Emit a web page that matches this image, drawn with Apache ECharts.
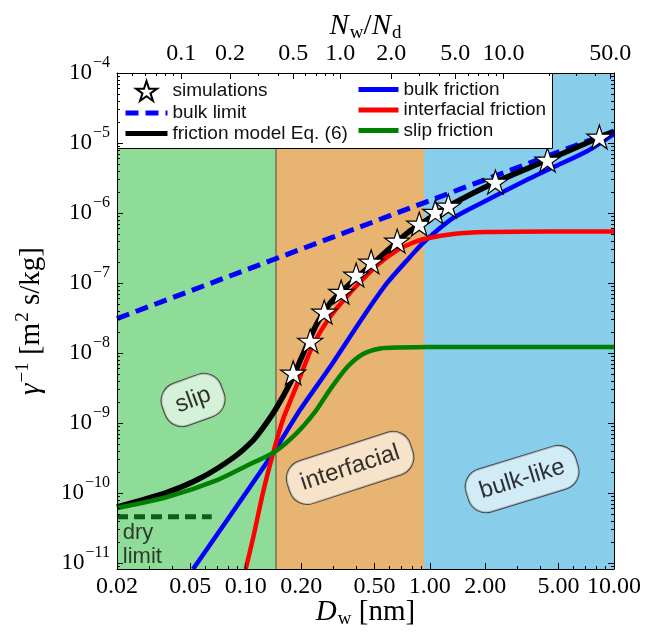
<!DOCTYPE html>
<html>
<head>
<meta charset="utf-8">
<script src="https://cdn.jsdelivr.net/npm/echarts@6/dist/echarts.min.js"></script>
<style>
  html, body { margin: 0; padding: 0; background: #ffffff; }
  #chart { width: 645px; height: 632px; }
</style>
</head>
<body>
<div id="chart"></div>
<script>
// Water film thickness D_w [nm] and inverse friction coefficient gamma^-1 [m^2 s/kg]

// simulations (stars)
const simD     = [0.181, 0.224, 0.267, 0.330, 0.398, 0.480, 0.665, 0.876, 1.07, 1.26, 2.27, 4.35, 8.33];
const simGamma = [5.2e-9, 1.48e-8, 3.85e-8, 7.4e-8, 1.3e-7, 2.0e-7, 3.98e-7, 6.97e-7, 1.03e-6, 1.26e-6, 2.77e-6, 5.72e-6, 1.22e-5];

// bulk limit (dashed)
const bulkLimitD     = [0.02, 10];
const bulkLimitGamma = [3.1e-8, 1.48e-5];

// friction model Eq. (6)
const modelD     = [0.02, 0.0374, 0.0566, 0.0857, 0.11, 0.126, 0.147, 0.174, 0.202, 0.244, 0.287, 0.354, 0.516, 0.75, 0.96, 1.26, 2.27, 4.35, 8.33, 10];
const modelGamma = [6.3e-11, 1.02e-10, 1.62e-10, 3.2e-10, 5.7e-10, 9.0e-10, 1.65e-9, 3.69e-9, 8.85e-9, 2.65e-8, 5.13e-8, 8.85e-8, 2.13e-7, 5.13e-7, 7.94e-7, 1.25e-6, 2.75e-6, 5.7e-6, 1.2e-5, 1.45e-5];

// bulk friction
const bulkD     = [0.0518, 0.141, 0.197, 0.287, 0.434, 0.586, 0.78, 0.918, 1.34, 2.05, 3.11, 4.71, 7.18, 10];
const bulkGamma = [8.2e-12, 3.73e-10, 1.53e-9, 6.3e-9, 3.27e-8, 1.0e-7, 2.35e-7, 3.73e-7, 8.49e-7, 1.53e-6, 2.68e-6, 4.54e-6, 7.7e-6, 1.35e-5];

// interfacial friction
const interfD     = [0.1, 0.110, 0.124, 0.141, 0.159, 0.188, 0.232, 0.287, 0.356, 0.434, 0.518, 0.665, 0.78, 0.93, 1.34, 2.05, 4.5, 10];
const interfGamma = [8.2e-12, 2.35e-11, 1.0e-10, 3.73e-10, 1.1e-9, 3.3e-9, 1.3e-8, 3.27e-8, 6.52e-8, 1.14e-7, 1.81e-7, 2.96e-7, 3.61e-7, 4.25e-7, 5.01e-7, 5.35e-7, 5.45e-7, 5.45e-7];

// slip friction
const slipD     = [0.02, 0.0374, 0.07, 0.106, 0.141, 0.185, 0.238, 0.287, 0.356, 0.434, 0.538, 0.69, 0.985, 10];
const slipGamma = [6.1e-11, 8.77e-11, 1.53e-10, 2.6e-10, 3.73e-10, 6.74e-10, 1.44e-9, 3.0e-9, 6.3e-9, 9.68e-9, 1.16e-8, 1.2e-8, 1.22e-8, 1.22e-8];

// dry limit (short dashed segment)
const dryD     = [0.02, 0.0654];
const dryGamma = [4.58e-11, 4.58e-11];

// regimes: slip | interfacial | bulk-like
const regimeBounds = [0.02, 0.146, 0.93, 10];

// bottom axis ticks
const bottomTicks  = [0.02, 0.05, 0.1, 0.2, 0.5, 1, 2, 5, 10];
const bottomMinor  = [0.03, 0.04, 0.06, 0.07, 0.08, 0.09, 0.3, 0.4, 0.6, 0.7, 0.8, 0.9, 3, 4, 6, 7, 8, 9];

// top axis: N_w/N_d ticks and the film thickness where each sits
const topTickN     = [0.1, 0.2, 0.5, 1, 2, 5, 10, 50];
const topTickLabel = ['0.1', '0.2', '0.5', '1.0', '2.0', '5.0', '10.0', '50.0'];
const topTickD     = [0.0446, 0.0822, 0.181, 0.326, 0.617, 1.374, 2.51, 9.55];
const topMinorN    = [0.05, 0.06, 0.07, 0.08, 0.09, 0.3, 0.4, 0.6, 0.7, 0.8, 0.9, 3, 4, 6, 7, 8, 9, 20, 30, 40];

// left axis decades
const yDecades = [-11, -10, -9, -8, -7, -6, -5, -4];

// regime notes
const noteText  = ['slip', 'interfacial', 'bulk-like'];
const noteD     = [0.0518, 0.369, 3.17];
const noteGamma = [2.13e-9, 2.28e-10, 1.58e-10];
const noteAngle = [20, 18, 17];

const lg = Math.log10;
const X_MIN = lg(0.02), X_MAX = lg(10);
const Y_MIN = lg(8.2e-12), Y_MAX = lg(1e-4);

const pts = (xs, ys) => xs.map((x, i) => [lg(x), lg(ys[i])]);

const topLogN = topTickN.map(lg), topLogD = topTickD.map(lg);
function nToLogD(n) {
  const v = lg(n);
  let i = 0;
  while (i < topLogN.length - 2 && v > topLogN[i + 1]) i++;
  const t = (v - topLogN[i]) / (topLogN[i + 1] - topLogN[i]);
  return topLogD[i] + t * (topLogD[i + 1] - topLogD[i]);
}
const topMinorPos = topMinorN.map(nToLogD).filter(v => v > X_MIN && v < X_MAX);

const yMinor = [];
for (let n = -12; n <= -5; n++) {
  for (let k = 2; k <= 9; k++) {
    const v = lg(k) + n;
    if (v > Y_MIN && v < Y_MAX) yMinor.push(v);
  }
}

const STAR = 'path://M100,0L122.45,69.1L195.1,69.1L136.33,111.8L158.8,180.9L100,138.2L41.2,180.9L63.67,111.8L4.9,69.1L77.55,69.1Z';
const SERIF = 'Liberation Serif';
const SANS = 'Liberation Sans';
const regimeColors = ['#8fdc98', '#e8b471', '#88cdea'];

const tickMajor = { show: true, inside: true, length: 6, lineStyle: { color: '#000', width: 1 } };
const tickMinor = { show: true, inside: true, length: 3, lineStyle: { color: '#000', width: 1 } };
const noLine = { show: false, onZero: false };
const frameLine = { show: true, onZero: false, lineStyle: { color: '#000', width: 1 } };

const xBase = { type: 'value', min: X_MIN, max: X_MAX, gridIndex: 0, splitLine: { show: false }, z: 30 };
const yBase = { type: 'value', min: Y_MIN, max: Y_MAX, gridIndex: 0, splitLine: { show: false }, z: 30 };

const nearestIdx = (arr, v) => {
  let best = 0;
  arr.forEach((a, i) => { if (Math.abs(a - v) < Math.abs(arr[best] - v)) best = i; });
  return best;
};

// line entries in the legend show only a thick line, no marker
const lineEntry = name => ({ name, itemStyle: { opacity: 0 }, lineStyle: { width: 5 } });

const SMOOTH = 0.25;

const option = {
  animation: false,
  backgroundColor: '#ffffff',
  grid: { left: 117, right: 31, top: 73, bottom: 63, containLabel: false, outerBoundsMode: 'none' },
  xAxis: [
    Object.assign({}, xBase, {
      position: 'bottom',
      axisLine: frameLine,
      axisTick: Object.assign({}, tickMajor, { customValues: bottomTicks.map(lg) }),
      axisLabel: {
        show: true, margin: 6, customValues: bottomTicks.map(lg),
        fontFamily: SERIF, fontSize: 24, color: '#000',
        formatter: v => bottomTicks[nearestIdx(bottomTicks.map(lg), v)].toFixed(2)
      },
      name: '{it|D}{sub|w}{rm| [nm]}',
      nameLocation: 'middle', nameGap: 27, nameMoveOverlap: false,
      nameTextStyle: {
        color: '#000',
        rich: {
          it: { fontFamily: SERIF, fontStyle: 'italic', fontSize: 29, color: '#000' },
          sub: { fontFamily: SERIF, fontSize: 19, color: '#000', verticalAlign: 'top', padding: [14, 0, 0, 1] },
          rm: { fontFamily: SERIF, fontSize: 29, color: '#000' }
        }
      }
    }),
    Object.assign({}, xBase, {
      position: 'bottom', axisLine: noLine,
      axisTick: Object.assign({}, tickMinor, { customValues: bottomMinor.map(lg) }),
      axisLabel: { show: false }
    }),
    Object.assign({}, xBase, {
      position: 'top',
      axisLine: frameLine,
      axisTick: Object.assign({}, tickMajor, { customValues: topLogD }),
      axisLabel: {
        show: true, margin: 7, customValues: topLogD,
        fontFamily: SERIF, fontSize: 24, color: '#000',
        formatter: v => topTickLabel[nearestIdx(topLogD, v)]
      },
      name: '{it|N}{sub|w}{rm|/}{it|N}{sub|d}',
      nameLocation: 'middle', nameGap: 30, nameMoveOverlap: false,
      nameTextStyle: {
        color: '#000',
        rich: {
          it: { fontFamily: SERIF, fontStyle: 'italic', fontSize: 29, color: '#000' },
          sub: { fontFamily: SERIF, fontSize: 19, color: '#000', verticalAlign: 'top', padding: [14, 0, 0, 1] },
          rm: { fontFamily: SERIF, fontSize: 29, color: '#000' }
        }
      }
    }),
    Object.assign({}, xBase, {
      position: 'top', axisLine: noLine,
      axisTick: Object.assign({}, tickMinor, { customValues: topMinorPos }),
      axisLabel: { show: false }
    })
  ],
  yAxis: [
    Object.assign({}, yBase, {
      position: 'left',
      axisLine: frameLine,
      axisTick: Object.assign({}, tickMajor, { customValues: yDecades }),
      axisLabel: {
        show: true, margin: 7, customValues: yDecades,
        formatter: v => '{b|10}{s|\u2212' + Math.abs(Math.round(v)) + '}',
        rich: {
          b: { fontFamily: SERIF, fontSize: 23, color: '#000' },
          s: { fontFamily: SERIF, fontSize: 16, color: '#000', verticalAlign: 'top', padding: [0, 0, 21, 1] }
        }
      },
      name: '{it|\u03b3}{sup|\u22121}{rm| [m}{sup|2}{rm| s/kg]}',
      nameLocation: 'middle', nameRotate: 90, nameGap: 68, nameMoveOverlap: false,
      nameTextStyle: {
        color: '#000',
        rich: {
          it: { fontFamily: SERIF, fontStyle: 'italic', fontSize: 29, color: '#000' },
          sup: { fontFamily: SERIF, fontSize: 19, color: '#000', verticalAlign: 'top', padding: [0, 0, 16, 1] },
          rm: { fontFamily: SERIF, fontSize: 29, color: '#000' }
        }
      }
    }),
    Object.assign({}, yBase, {
      position: 'left', axisLine: noLine,
      axisTick: Object.assign({}, tickMinor, { customValues: yMinor }),
      axisLabel: { show: false }
    }),
    Object.assign({}, yBase, {
      position: 'right', axisLine: frameLine,
      axisTick: Object.assign({}, tickMajor, { customValues: yDecades }),
      axisLabel: { show: false }
    }),
    Object.assign({}, yBase, {
      position: 'right', axisLine: noLine,
      axisTick: Object.assign({}, tickMinor, { customValues: yMinor }),
      axisLabel: { show: false }
    })
  ],
  legend: [
    {
      data: ['simulations', lineEntry('bulk limit'), lineEntry('friction model Eq. (6)')],
      orient: 'vertical', left: 118, top: 75, itemWidth: 42, itemHeight: 20, itemGap: 1.5,
      selectedMode: false, z: 20,
      textStyle: { fontFamily: SANS, fontSize: 19, color: '#111' }
    },
    {
      data: [lineEntry('bulk friction'), lineEntry('interfacial friction'), lineEntry('slip friction')],
      orient: 'vertical', left: 351, top: 75, itemWidth: 40, itemHeight: 20, itemGap: 1.5,
      selectedMode: false, z: 20,
      textStyle: { fontFamily: SANS, fontSize: 19, color: '#111' }
    }
  ],
  graphic: [
    {
      type: 'rect', z: 15, silent: true,
      shape: { x: 117.5, y: 73.5, width: 435, height: 75 },
      style: { fill: '#ffffff', stroke: '#000000', lineWidth: 1 }
    }
  ],
  series: [
    {
      name: 'regimes', type: 'custom', z: 1, silent: true, clip: true,
      encode: { x: [0, 1] },
      data: regimeBounds.slice(0, -1).map((b, i) => [lg(b), lg(regimeBounds[i + 1])]),
      renderItem(params, api) {
        const cs = params.coordSys;
        const a = api.coord([api.value(0), Y_MIN]);
        const b = api.coord([api.value(1), Y_MIN]);
        return {
          type: 'rect',
          shape: { x: a[0], y: cs.y, width: b[0] - a[0], height: cs.height },
          style: { fill: regimeColors[params.dataIndex] }
        };
      }
    },
    {
      name: 'regime edge', type: 'line', z: 2, silent: true, symbol: 'none',
      data: [[lg(regimeBounds[1]), Y_MIN], [lg(regimeBounds[1]), Y_MAX]],
      lineStyle: { color: '#4a4a4a', width: 1 }
    },
    {
      name: 'bulk limit', type: 'line', z: 3, symbol: 'none', silent: true,
      data: pts(bulkLimitD, bulkLimitGamma),
      itemStyle: { color: '#0000ff' },
      lineStyle: { color: '#0000ff', width: 5, type: [13, 7] }
    },
    {
      name: 'friction model Eq. (6)', type: 'line', z: 4, symbol: 'none', silent: true,
      smooth: SMOOTH,
      data: pts(modelD, modelGamma),
      itemStyle: { color: '#000000' },
      lineStyle: { color: '#000000', width: 5.5 }
    },
    {
      name: 'bulk friction', type: 'line', z: 5, symbol: 'none', silent: true,
      smooth: SMOOTH,
      data: pts(bulkD, bulkGamma),
      itemStyle: { color: '#0000ff' },
      lineStyle: { color: '#0000ff', width: 4.5 }
    },
    {
      name: 'interfacial friction', type: 'line', z: 6, symbol: 'none', silent: true,
      smooth: SMOOTH,
      data: pts(interfD, interfGamma),
      itemStyle: { color: '#ff0000' },
      lineStyle: { color: '#ff0000', width: 4.5 }
    },
    {
      name: 'slip friction', type: 'line', z: 7, symbol: 'none', silent: true,
      smooth: SMOOTH,
      data: pts(slipD, slipGamma),
      itemStyle: { color: '#007f00' },
      lineStyle: { color: '#007f00', width: 4.5 }
    },
    {
      name: 'dry limit', type: 'line', z: 7, symbol: 'none', silent: true,
      data: pts(dryD, dryGamma),
      lineStyle: { color: '#0e5e1a', width: 5, type: [11, 6] }
    },
    {
      name: 'simulations', type: 'scatter', z: 10, silent: true,
      symbol: STAR, symbolSize: 25, symbolKeepAspect: true,
      data: pts(simD, simGamma),
      itemStyle: { color: '#ffffff', borderColor: '#000000', borderWidth: 1.2, opacity: 1 }
    },
    {
      name: 'regime notes', type: 'scatter', z: 12, silent: true,
      symbolSize: 0,
      data: noteText.map((t, i) => ({
        value: [lg(noteD[i]), lg(noteGamma[i])],
        label: { formatter: t, rotate: noteAngle[i] }
      })),
      label: {
        show: true, position: 'inside',
        fontFamily: SANS, fontSize: 24, color: '#000',
        backgroundColor: 'rgba(255,255,255,0.78)',
        borderColor: '#2a2a2a', borderWidth: 1, borderRadius: 18,
        padding: [10, 13, 10, 13]
      }
    },
    {
      name: 'dry note', type: 'scatter', z: 12, silent: true,
      symbolSize: 0,
      data: [[lg(0.0215), lg(1.81e-11)]],
      label: {
        show: true, position: 'right', distance: 0,
        formatter: 'dry\nlimit', align: 'left',
        fontFamily: SANS, fontSize: 22, lineHeight: 24, color: '#111'
      }
    }
  ]
};

const chart = echarts.init(document.getElementById('chart'), null, { renderer: 'canvas', width: 645, height: 632 });
chart.setOption(option);
</script>
</body>
</html>
